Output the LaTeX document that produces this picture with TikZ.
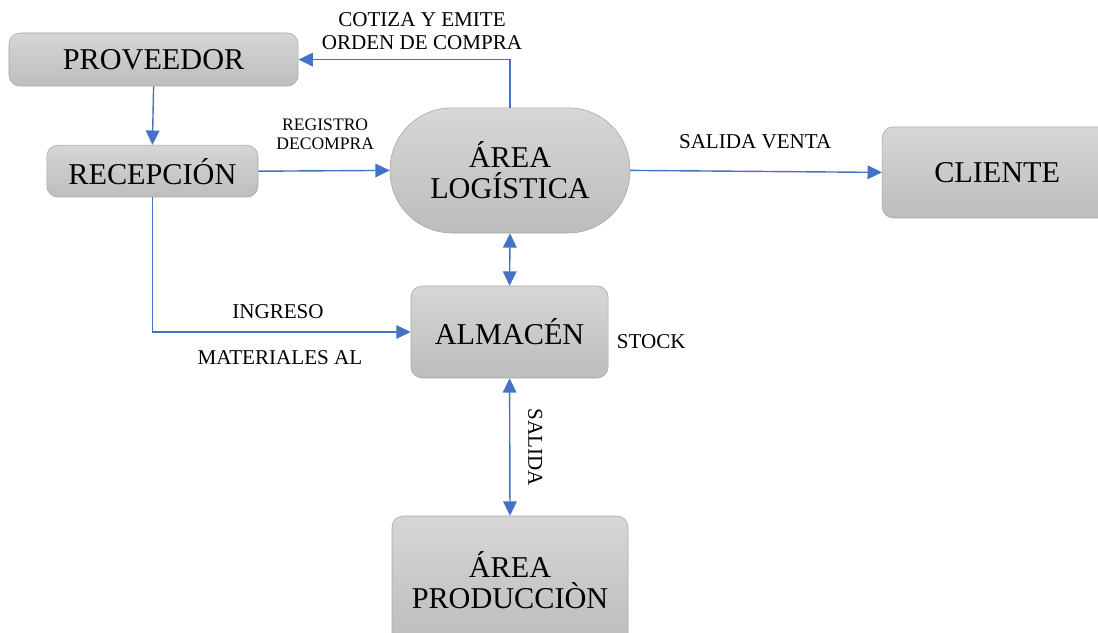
\documentclass[tikz,border=0pt]{standalone}
\usepackage{fontspec}
\setmainfont{Liberation Serif}
\usepackage{tikz}
\usetikzlibrary{arrows.meta,positioning,calc}

\begin{document}
\begin{tikzpicture}[area/.style={draw=black!35, top color=black!16, bottom color=black!26, rounded corners=8pt, align=center, font=\fontsize{21.5}{22}\selectfont}, areastad/.style={area, rounded corners=1.55cm}, lbl/.style={align=center, font=\fontsize{15}{16.3}\selectfont, inner sep=0pt}, arr/.style={-{Triangle[length=3.6mm, width=3.4mm]}, line width=1pt, draw={rgb,255:red,68;green,114;blue,196}}, arrb/.style={arr, {Triangle[length=3.6mm, width=3.4mm]}-{Triangle[length=3.6mm, width=3.4mm]}}
]
  \useasboundingbox (0,0) rectangle (27.45,-15.825);
  \clip (0,0) rectangle (27.45,-15.825);
  \node[area, minimum width=7.23cm, minimum height=1.33cm] (prov) at (3.84,-1.49) {PROVEEDOR};
  \node[area, minimum width=5.28cm, minimum height=1.30cm] (recep) at (3.81,-4.28) {RECEPCIÓN};
  \node[areastad, minimum width=6.0cm, minimum height=3.13cm] (logis) at (12.75,-4.26) {ÁREA\\LOGÍSTICA};
  \node[area, minimum width=5.75cm, minimum height=2.28cm] (cliente) at (24.93,-4.31) {CLIENTE};
  \node[area, minimum width=4.93cm, minimum height=2.30cm] (almacen) at (12.74,-8.30) {ALMACÉN};
  \node[area, minimum width=5.9cm, minimum height=3.2cm] (produc) at (12.75,-14.50) {ÁREA\\PRODUCCIÒN};
  % etiquetas
  \node[lbl] (cotiza) at (10.55,-0.78) {COTIZA Y EMITE\\ORDEN DE COMPRA};
  \node[lbl, font=\fontsize{12.5}{13.5}\selectfont] (registro) at (8.13,-3.35) {REGISTRO\\DECOMPRA};
  \node[lbl] (venta) at (18.88,-3.53) {SALIDA VENTA};
  \node[lbl] (ingreso) at (6.95,-7.80) {INGRESO};
  \node[lbl] (materiales) at (7.0,-8.93) {MATERIALES AL};
  \node[lbl] (stock) at (16.28,-8.55) {STOCK};
  \node[lbl, rotate=-90] (salida) at (13.38,-11.18) {SALIDA};
  % flechas
  \draw[arr] (logis.north) |- (prov.east);
  \draw[arr] (prov.south) -- (recep.north);
  \draw[arr] (recep.east) -- (logis.west);
  \draw[arr] (logis.east) -- (cliente.west);
  \draw[arrb] (logis.south) -- (almacen.north);
  \draw[arr] (recep.south) |- (almacen.west);
  \draw[arrb] (almacen.south) -- (produc.north);
\end{tikzpicture}
\end{document}
